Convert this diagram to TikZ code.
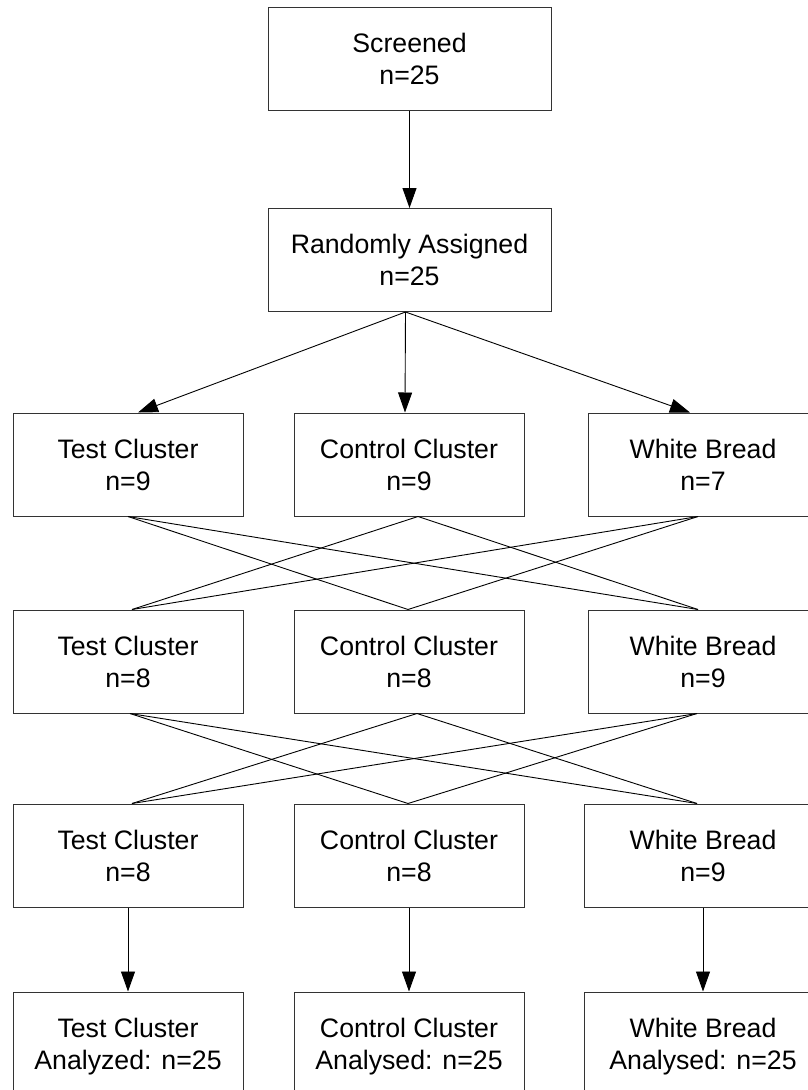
\documentclass[tikz,border=0pt]{standalone}
\usepackage{fontspec}
\setmainfont{Liberation Sans}
\usetikzlibrary{arrows.meta}
\begin{document}
\begin{tikzpicture}[x=1pt,y=-1pt,
  box/.style={draw=black!80, line width=1pt, minimum width=230pt, minimum height=103pt,
    align=center, inner sep=0pt, text depth=0pt, font=\fontsize{26.7}{32}\selectfont},
  link/.style={line width=0.9pt, black},
  arr/.style={link, -{Triangle[length=20pt,width=14pt]}}]
\useasboundingbox (0,0) rectangle (808,1090);
\clip (0,0) rectangle (808,1090);
% top
\node[box, minimum width=283pt] (scr) at (409.5,58.5) {Screened\\n=25};
\node[box, minimum width=283pt] (ra) at (409.5,260) {Randomly Assigned\\n=25};
% row 3
\node[box] (t3) at (128,464.5) {Test Cluster\\n=9};
\node[box] (c3) at (409,464.5) {Control Cluster\\n=9};
\node[box] (w3) at (703,464.5) {White Bread\\n=7};
% row 4
\node[box] (t4) at (128,661.5) {Test Cluster\\n=8};
\node[box] (c4) at (409,661.5) {Control Cluster\\n=8};
\node[box] (w4) at (703,661.5) {White Bread\\n=9};
% row 5
\node[box] (t5) at (128,855.5) {Test Cluster\\n=8};
\node[box] (c5) at (409,855.5) {Control Cluster\\n=8};
\node[box, minimum width=238pt] (w5) at (703,855.5) {White Bread\\n=9};
% row 6
\node[box] (t6) at (128,1043.5) {Test Cluster\\Analyzed: n=25};
\node[box] (c6) at (409,1043.5) {Control Cluster\\Analysed: n=25};
\node[box, minimum width=238pt] (w6) at (703,1043.5) {White Bread\\Analysed: n=25};
% arrows
\draw[arr] (scr) -- (ra);
\draw[arr] ([xshift=-4pt]ra.south) -- ([xshift=10pt]t3.north);
\draw[arr] ([xshift=-4pt]ra.south) -- ([xshift=-4pt]c3.north);
\draw[arr] ([xshift=-4pt]ra.south) -- ([xshift=-13pt]w3.north);
% crossings row 3 -> row 4
\coordinate (t3s) at ([xshift=0pt]t3.south);
\coordinate (c3s) at ([xshift=9pt]c3.south);
\coordinate (w3s) at ([xshift=-5pt]w3.south);
\coordinate (t4n) at ([xshift=4pt]t4.north);
\coordinate (c4n) at ([xshift=-1pt]c4.north);
\coordinate (w4n) at ([xshift=-5pt]w4.north);
\draw[link] (t3s) -- (c4n);
\draw[link] (t3s) -- (w4n);
\draw[link] (c3s) -- (t4n);
\draw[link] (c3s) -- (w4n);
\draw[link] (w3s) -- (t4n);
\draw[link] (w3s) -- (c4n);
% crossings row 4 -> row 5
\coordinate (t4s) at ([xshift=2pt]t4.south);
\coordinate (c4s) at ([xshift=8pt]c4.south);
\coordinate (w4s) at ([xshift=-6pt]w4.south);
\coordinate (t5n) at ([xshift=4pt]t5.north);
\coordinate (c5n) at ([xshift=-1pt]c5.north);
\coordinate (w5n) at ([xshift=-6pt]w5.north);
\draw[link] (t4s) -- (c5n);
\draw[link] (t4s) -- (w5n);
\draw[link] (c4s) -- (t5n);
\draw[link] (c4s) -- (w5n);
\draw[link] (w4s) -- (t5n);
\draw[link] (w4s) -- (c5n);
% final arrows
\draw[arr] (t5) -- (t6);
\draw[arr] (c5) -- (c6);
\draw[arr] (w5) -- (w6);
\end{tikzpicture}
\end{document}
